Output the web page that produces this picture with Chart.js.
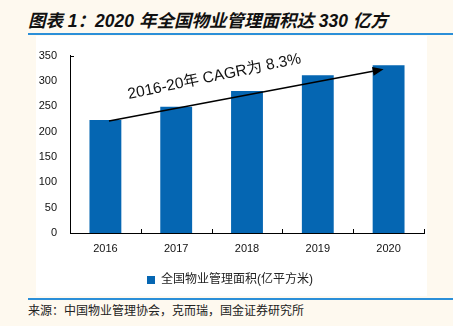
<!DOCTYPE html>
<html>
<head>
<meta charset="utf-8">
<script src="https://cdn.jsdelivr.net/npm/chart.js@4/dist/chart.umd.min.js"></script>
<style>
  html, body { margin: 0; padding: 0; }
  body { width: 453px; height: 326px; background: #fef9ef; position: relative; overflow: hidden;
         font-family: "Liberation Sans", "Noto Sans CJK SC", sans-serif; }
  #title { position: absolute; left: 28px; top: 11px; font-size: 17.5px; font-weight: bold; font-style: italic;
           color: #111; white-space: nowrap; line-height: 20px; }
  #topline { position: absolute; left: 28px; right: 0; top: 33px; height: 2px; background: #2b8fd8; }
  #plot { position: absolute; left: 36px; top: 36px; width: 391px; height: 260px; background: #fff; }
  #botline { position: absolute; left: 28px; right: 0; top: 298px; height: 2px; background: #2b8fd8; }
  #source { position: absolute; left: 28px; top: 302px; font-size: 12px; color: #222; white-space: nowrap;
            font-family: "Noto Sans CJK SC", sans-serif; line-height: 16px; }
</style>
</head>
<body>
<div id="title">图表 1：2020 年全国物业管理面积达 330 亿方</div>
<div id="topline"></div>
<div id="plot"><canvas id="c" width="391" height="260"></canvas></div>
<div id="botline"></div>
<div id="source">来源：中国物业管理协会，克而瑞，国金证券研究所</div>
<script>
const categories = ["2016", "2017", "2018", "2019", "2020"];
const areaValues = [223, 249, 280, 311, 331];
const seriesLabel = "全国物业管理面积(亿平方米)";
const yTicks = [0, 50, 100, 150, 200, 250, 300, 350];
const cagrText = "2016-20年 CAGR为 8.3%";
// arrow endpoints in data terms: [category index, value]
const arrowFrom = [0.05, 221];
const arrowTo = [3.93, 323];

const barBlue = "#0566b2";

const decorPlugin = {
  id: "decor",
  afterDatasetsDraw(chart) {
    const ctx = chart.ctx;
    const xs = chart.scales.x, ys = chart.scales.y;
    const area = chart.chartArea;
    ctx.save();
    ctx.strokeStyle = "#000";
    ctx.lineWidth = 1;
    for (let i = 0; i < categories.length; i++) {
      const px = Math.round(xs.getPixelForValue(i + 0.5)) + 0.5;
      ctx.beginPath();
      ctx.moveTo(px, area.bottom);
      ctx.lineTo(px, area.bottom - 4);
      ctx.stroke();
    }
    const ty = Math.round(ys.getPixelForValue(yTicks[yTicks.length - 1])) + 0.5;
    ctx.beginPath();
    ctx.moveTo(area.left, ty);
    ctx.lineTo(area.left + 4, ty);
    ctx.stroke();

    const x1 = xs.getPixelForValue(arrowFrom[0]), y1 = ys.getPixelForValue(arrowFrom[1]);
    const x2 = xs.getPixelForValue(arrowTo[0]), y2 = ys.getPixelForValue(arrowTo[1]);
    const ang = Math.atan2(y2 - y1, x2 - x1);
    const headLen = 11, headW = 4.5;
    const bx = x2 - headLen * Math.cos(ang), by = y2 - headLen * Math.sin(ang);
    ctx.strokeStyle = "#000";
    ctx.fillStyle = "#000";
    ctx.lineWidth = 1.6;
    ctx.beginPath();
    ctx.moveTo(x1, y1);
    ctx.lineTo(bx, by);
    ctx.stroke();
    ctx.beginPath();
    ctx.moveTo(x2, y2);
    ctx.lineTo(bx + headW * Math.sin(ang), by - headW * Math.cos(ang));
    ctx.lineTo(bx - headW * Math.sin(ang), by + headW * Math.cos(ang));
    ctx.closePath();
    ctx.fill();

    const mx = (x1 + x2) / 2, my = (y1 + y2) / 2;
    const ux = Math.cos(ang), uy = Math.sin(ang);
    const nx = Math.sin(ang), ny = -Math.cos(ang);
    const tx = mx - 28 * ux + 24 * nx;
    const tyy = my - 28 * uy + 24 * ny;
    ctx.translate(tx, tyy);
    ctx.rotate(ang - 0.02);
    ctx.font = "15.5px 'Liberation Sans', 'Noto Sans CJK SC', sans-serif";
    ctx.textAlign = "center";
    ctx.textBaseline = "middle";
    ctx.fillStyle = "#111";
    ctx.fillText(cagrText, 0, 0);
    ctx.restore();
  }
};

new Chart(document.getElementById("c"), {
  type: "bar",
  data: {
    labels: categories,
    datasets: [{
      label: seriesLabel,
      data: areaValues,
      backgroundColor: barBlue,
      borderWidth: 0,
      barPercentage: 0.45,
      categoryPercentage: 1.0
    }]
  },
  options: {
    responsive: false,
    animation: false,
    devicePixelRatio: 1,
    layout: { padding: { left: 0, right: 3, top: 15, bottom: 0 } },
    plugins: {
      legend: {
        position: "bottom",
        labels: {
          boxWidth: 8, boxHeight: 8, padding: 8, color: "#222",
          font: { size: 12, family: "'Liberation Sans', 'Noto Sans CJK SC', sans-serif" }
        }
      },
      tooltip: { enabled: false }
    },
    scales: {
      x: {
        grid: { display: false, drawTicks: false },
        border: { display: true, color: "#000", width: 1 },
        ticks: { color: "#111", padding: 9, font: { size: 11, family: "'Liberation Sans', sans-serif" } },
        afterFit(s) { s.height = 33; }
      },
      y: {
        min: 0, max: 350,
        grid: { display: false, drawTicks: false },
        border: { display: true, color: "#000", width: 1 },
        afterBuildTicks(s) { s.ticks = yTicks.map(v => ({ value: v })); },
        ticks: { color: "#111", padding: 13, font: { size: 11, family: "'Liberation Sans', sans-serif" } },
        afterFit(s) { s.width = 34; }
      }
    }
  },
  plugins: [decorPlugin]
});
</script>
</body>
</html>
